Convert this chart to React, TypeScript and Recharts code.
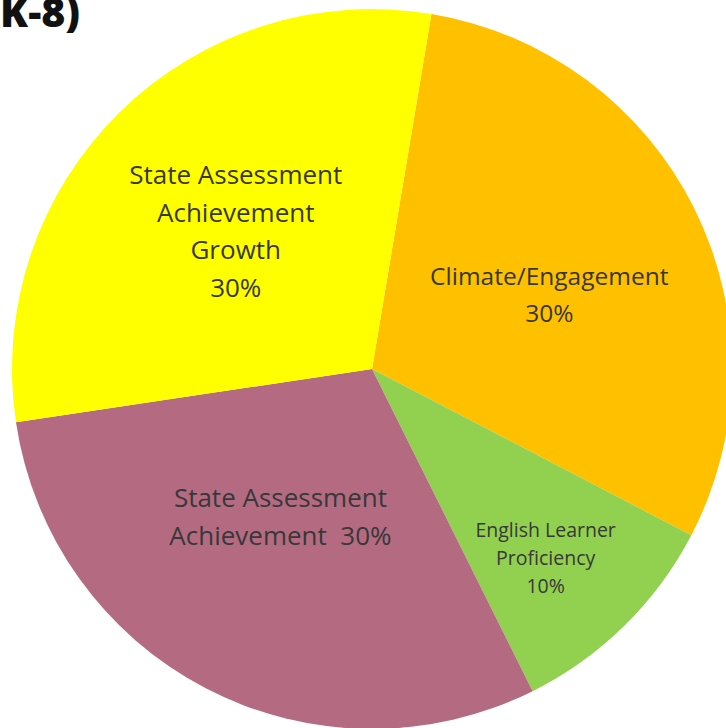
import React from "react";
import { PieChart, Pie, Cell } from "recharts";

const categories = [
  "Climate/Engagement",
  "English Learner Proficiency",
  "State Assessment Achievement",
  "State Assessment Achievement Growth",
];
const values = [30, 10, 30, 30];
const labelLines = [
  ["Climate/Engagement", "30%"],
  ["English Learner", "Proficiency", "10%"],
  ["State Assessment", "Achievement  30%"],
  ["State Assessment", "Achievement", "Growth", "30%"],
];
const colors = ["#FFC000", "#92D050", "#B46B82", "#FFFF00"];
const labelRadiusFactor = [0.535, 0.71, 0.48, 0.54];
const labelAngleOffset = [-3.5, -1.7, -4.5, 0];
const labelFontSize = [24.5, 19.5, 26, 26];
const labelLineHeight = [37, 28, 38, 37.5];

const data = categories.map((name, i) => ({ name, value: values[i] }));

const RADIAN = Math.PI / 180;
const FONT = "'Open Sans', 'Noto Sans', sans-serif";

const renderLabel = (props: any) => {
  const { cx, cy, midAngle, outerRadius, index } = props;
  const r = outerRadius * labelRadiusFactor[index];
  const a = (midAngle + labelAngleOffset[index]) * RADIAN;
  const x = cx + r * Math.cos(a);
  const y = cy - r * Math.sin(a);
  const lines = labelLines[index];
  const lh = labelLineHeight[index];
  const startY = y - ((lines.length - 1) * lh) / 2;
  return (
    <text
      x={x}
      y={startY}
      textAnchor="middle"
      dominantBaseline="central"
      fill="#383838"
      fontSize={labelFontSize[index]}
      fontFamily={FONT}
      style={{ whiteSpace: "pre" }}
    >
      {lines.map((l, i) => (
        <tspan key={i} x={x} y={startY + i * lh}>
          {l}
        </tspan>
      ))}
    </text>
  );
};

export default function App() {
  return (
    <div style={{ position: "absolute", left: 0, top: 0, width: 726, height: 728, background: "#fff", overflow: "hidden" }}>
      <PieChart width={726} height={728} margin={{ top: 0, right: 0, bottom: 0, left: 0 }}>
        <Pie
          data={data}
          dataKey="value"
          nameKey="name"
          cx={372}
          cy={369}
          outerRadius={360}
          startAngle={80.5}
          endAngle={-279.5}
          stroke="none"
          isAnimationActive={false}
          label={renderLabel}
          labelLine={false}
        >
          {data.map((d, i) => (
            <Cell key={d.name} fill={colors[i]} />
          ))}
        </Pie>
      </PieChart>
      <div
        style={{
          position: "absolute",
          left: 0,
          top: -9,
          fontFamily: FONT,
          fontWeight: 800,
          fontSize: 41,
          color: "#111",
          lineHeight: "41px",
        }}
      >
        K-8)
      </div>
    </div>
  );
}
